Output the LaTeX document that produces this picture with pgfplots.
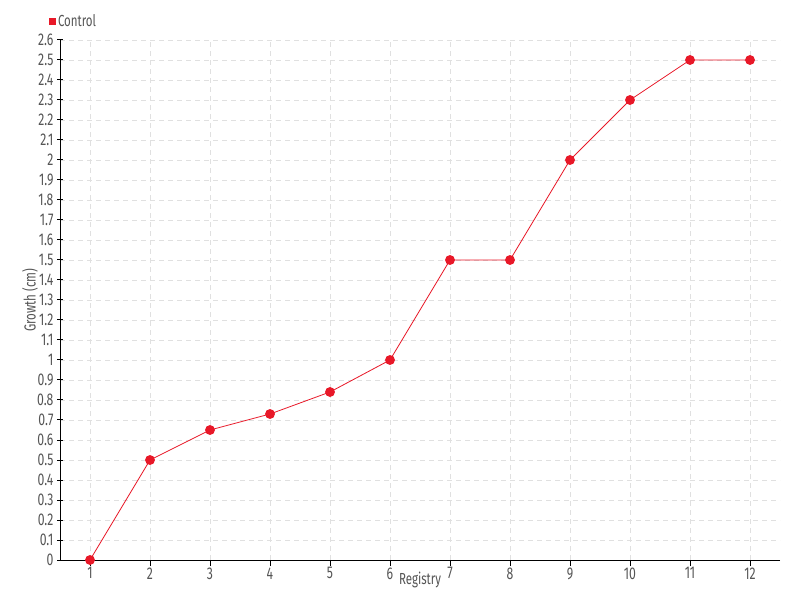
\documentclass[border=0pt]{standalone}
\usepackage{pgfplots}
\pgfplotsset{compat=1.18}
\usepackage{fontspec}
\setmainfont[FakeStretch=0.72]{Fira Sans}
\definecolor{ser}{RGB}{232,24,40}
\definecolor{txt}{RGB}{85,85,85}
\definecolor{gridc}{RGB}{224,224,224}
\begin{document}
\begin{tikzpicture}[x=1pt,y=1pt]
\path[use as bounding box] (0,0) rectangle (800,600);
\begin{axis}[
  at={(60pt,40pt)}, anchor=south west,
  width=720pt, height=520pt, scale only axis,
  xmin=0.5, xmax=12.5, ymin=0, ymax=2.6,
  xtick={1,...,12},
  ytick={0,0.1,...,2.61},
  yticklabel style={/pgf/number format/fixed,/pgf/number format/precision=1},
  /pgf/number format/assume math mode=true,
  axis x line*=bottom, axis y line*=left,
  axis line style={black, line width=1pt, -},
  tick style={black, line width=1pt},
  xtick align=outside, ytick align=center,
  major tick length=6pt,
  grid=major,
  major grid style={gridc, dashed, line width=0.8pt, dash pattern=on 5pt off 4pt},
  tick label style={font=\fontsize{17}{17}\selectfont, text=txt},
  xticklabel style={yshift=2pt},
  xlabel={Registry}, ylabel={Growth (cm)},
  label style={font=\fontsize{16}{16}\selectfont, text=txt},
  xlabel style={at={(axis description cs:0.5,-0.0385)}, anchor=center},
  ylabel style={at={(axis description cs:-0.0417,0.5)}, anchor=center},
  legend style={at={(-11pt,539pt)}, anchor=west, draw=none, fill=none,
    font=\fontsize{16}{16}\selectfont, text=txt, inner sep=0pt,
    legend cell align=left},
  legend image code/.code={\fill[ser] (0pt,-3pt) rectangle (6pt,3pt);},
  clip=false,
]
\addplot[color=ser, line width=0.8pt, mark=*, mark size=4.5pt, mark options={fill=ser, draw=ser}]
coordinates {(1,0) (2,0.5) (3,0.65) (4,0.73) (5,0.84) (6,1.0) (7,1.5) (8,1.5) (9,2.0) (10,2.3) (11,2.5) (12,2.5)};
\addlegendentry{Control}
\end{axis}
\end{tikzpicture}
\end{document}
